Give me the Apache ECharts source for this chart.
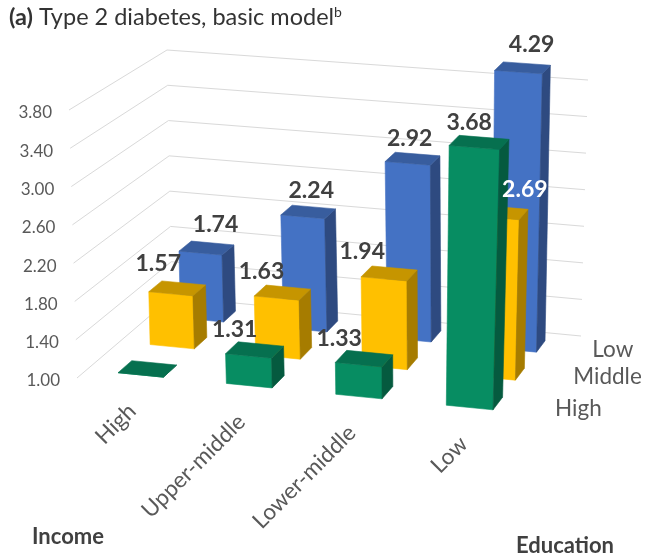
<!DOCTYPE html>
<html>
<head>
<meta charset="utf-8">
<style>html,body{margin:0;padding:0;background:#fff}#chart{width:646px;height:559px}</style>
<script src="https://cdn.jsdelivr.net/npm/echarts@6/dist/echarts.min.js"></script>
</head>
<body>
<div id="chart"></div>
<script>
// Categories and values
const incomeLevels = ['High', 'Upper-middle', 'Lower-middle', 'Low'];
const educationLevels = ['High', 'Middle', 'Low'];
const valueTicks = [1.0, 1.4, 1.8, 2.2, 2.6, 3.0, 3.4, 3.8];
const highEducation = [1.00, 1.31, 1.33, 3.68];
const middleEducation = [1.57, 1.63, 1.94, 2.69];
const lowEducation = [1.74, 2.24, 2.92, 4.29];

// Face colours per education row: front, top, side
const rowFaces = [
  ['#078D62', '#06704F', '#055A3F'],
  ['#FFC000', '#C69500', '#A67C00'],
  ['#4472C4', '#385D9E', '#2E4A80']
];

// Pixel nudges of each value label from the centre of its bar's top
const labelNudges = [
  [null, [-20, -20], [-25, -20], [-10, -20]],
  [[-19, -25], [-21, -21], [-27, -22], [25, -23]],
  [[9, -23], [3, -21], [-3, -20], [9, -23]]
];
const educationNudges = [[25, 2], [22, 0], [21, 0]];

// Projection of the 3D plot box: floor and ceiling quads, corners
// in the order front-left, front-right, back-right, back-left
const floorQuad = [[77, 378], [519, 422], [581, 336], [172, 297]];
const ceilingQuad = [[69, 110], [529, 148], [588, 80], [167, 50]];
const BAR_LO = 0.29, BAR_HI = 0.71;

function quadMap(q) {
  const [p0, p1, p2, p3] = q;
  const dx1 = p1[0] - p2[0], dx2 = p3[0] - p2[0], sx = p0[0] - p1[0] + p2[0] - p3[0];
  const dy1 = p1[1] - p2[1], dy2 = p3[1] - p2[1], sy = p0[1] - p1[1] + p2[1] - p3[1];
  const den = dx1 * dy2 - dx2 * dy1;
  const g = (sx * dy2 - dx2 * sy) / den, h = (dx1 * sy - sx * dy1) / den;
  const a = p1[0] - p0[0] + g * p1[0], b = p3[0] - p0[0] + h * p3[0], c = p0[0];
  const d = p1[1] - p0[1] + g * p1[1], e = p3[1] - p0[1] + h * p3[1], f = p0[1];
  return (u, v) => {
    const w = g * u + h * v + 1;
    return [(a * u + b * v + c) / w, (d * u + e * v + f) / w];
  };
}
const floorMap = quadMap(floorQuad), ceilingMap = quadMap(ceilingQuad);

// x: income position 0..4, z: education position 0..3, t: height share from the value axis
function project(x, z, t) {
  const a = floorMap(x / 4, z / 3), b = ceilingMap(x / 4, z / 3);
  return [a[0] + (b[0] - a[0]) * t, a[1] + (b[1] - a[1]) * t];
}
function heightShare(api, v) {
  const y0 = api.coord([0, valueTicks[0]])[1];
  const y1 = api.coord([0, valueTicks[valueTicks.length - 1]])[1];
  return (api.coord([0, v])[1] - y0) / (y1 - y0);
}
function face(points, fill) {
  return {
    type: 'polygon',
    shape: { points },
    style: { fill, stroke: fill, lineWidth: 0.6 }
  };
}

function renderBar(row) {
  return (params, api) => {
    const cat = api.value(0), t = heightShare(api, api.value(1));
    const x0 = cat + BAR_LO, x1 = cat + BAR_HI, z0 = row + BAR_LO, z1 = row + BAR_HI;
    const [front, top, side] = rowFaces[row];
    return {
      type: 'group',
      children: [
        face([project(x0, z0, 0), project(x1, z0, 0), project(x1, z0, t), project(x0, z0, t)], front),
        face([project(x1, z0, 0), project(x1, z1, 0), project(x1, z1, t), project(x1, z0, t)], side),
        face([project(x0, z0, t), project(x1, z0, t), project(x1, z1, t), project(x0, z1, t)], top)
      ]
    };
  };
}

function renderValueLabel(row) {
  return (params, api) => {
    const cat = api.value(0), v = api.value(1);
    const nudge = labelNudges[row][cat];
    if (!nudge) return null;
    const p = project(cat + 0.5, row + 0.5, heightShare(api, v));
    const white = row === 1 && cat === 3;
    return {
      type: 'text',
      x: p[0] + nudge[0],
      y: p[1] + nudge[1],
      style: {
        text: v.toFixed(2),
        font: 'bold 23px Lato',
        fill: white ? '#FFFFFF' : '#404040',
        align: 'center',
        verticalAlign: 'middle'
      }
    };
  };
}

function renderWallLine(params, api) {
  const t = heightShare(api, api.value(1));
  const a = project(0, 0, t), b = project(0, 3, t), c = project(4, 3, t);
  return {
    type: 'group',
    children: [
      {
        type: 'polyline',
        shape: { points: [a, b, c] },
        style: { fill: 'none', stroke: '#D9D9D9', lineWidth: 1 }
      },
      {
        type: 'text',
        x: a[0] - 17,
        y: a[1] + 3,
        style: {
          text: api.value(1).toFixed(2),
          font: '17px Lato',
          fill: '#595959',
          align: 'right',
          verticalAlign: 'middle'
        }
      }
    ]
  };
}

function renderIncomeLabel(params, api) {
  const cat = api.value(0);
  const p = project(cat + 0.5, 0, 0);
  return {
    type: 'text',
    x: p[0] + 1,
    y: p[1] + 24,
    rotation: Math.PI / 4,
    style: {
      text: incomeLevels[cat],
      font: '22.5px Lato',
      fill: '#595959',
      align: 'right',
      verticalAlign: 'middle'
    }
  };
}

function renderEducationLabel(params, api) {
  const i = params.dataIndex;
  const p = project(4, i + 0.5, 0);
  return {
    type: 'text',
    x: p[0] + educationNudges[i][0],
    y: p[1] + educationNudges[i][1],
    style: {
      text: educationLevels[i],
      font: '22.5px Lato',
      fill: '#595959',
      align: 'left',
      verticalAlign: 'middle'
    }
  };
}

const rows = [highEducation, middleEducation, lowEducation];
const series = [
  {
    name: 'gridlines',
    type: 'custom',
    coordinateSystem: 'cartesian2d',
    renderItem: renderWallLine,
    data: valueTicks.map(v => [0, v]),
    silent: true,
    z: 1
  },
  {
    name: 'income labels',
    type: 'custom',
    renderItem: renderIncomeLabel,
    data: incomeLevels.map((_, i) => [i, valueTicks[0]]),
    silent: true,
    z: 1
  },
  {
    name: 'education labels',
    type: 'custom',
    renderItem: renderEducationLabel,
    data: educationLevels.map((_, i) => [0, valueTicks[0]]),
    silent: true,
    z: 1
  }
];
// Back row first so nearer bars paint over it
[2, 1, 0].forEach(row => {
  series.push({
    name: educationLevels[row] + ' education',
    type: 'custom',
    renderItem: renderBar(row),
    data: rows[row].map((v, i) => [i, v]),
    silent: true,
    z: 5 - row
  });
  series.push({
    name: educationLevels[row] + ' education values',
    type: 'custom',
    renderItem: renderValueLabel(row),
    data: rows[row].map((v, i) => [i, v]),
    silent: true,
    z: 10
  });
});

const chart = echarts.init(document.getElementById('chart'), null, { renderer: 'canvas' });
chart.setOption({
  animation: false,
  backgroundColor: '#FFFFFF',
  title: {
    text: '{h|(a)} Type 2 diabetes, basic model{s|b}',
    left: 4,
    top: 0,
    textStyle: {
      fontFamily: 'Lato',
      fontSize: 23.5,
      fontWeight: 'normal',
      color: '#333333',
      rich: {
        h: { fontFamily: 'Lato', fontSize: 23.5, fontWeight: 'bold', color: '#333333' },
        s: { fontFamily: 'Lato', fontSize: 14, color: '#333333', verticalAlign: 'top', padding: [0, 0, 10, 0] }
      }
    }
  },
  grid: { left: 77, right: 148, top: 80, bottom: 181 },
  xAxis: { type: 'category', data: incomeLevels, show: false },
  // The top of the tallest bar runs past the last gridline on a compressed stretch of the axis
  yAxis: {
    type: 'value',
    min: 1,
    max: 4.4,
    interval: 0.4,
    show: false,
    breaks: [{ start: 3.8, end: 4.09, gap: 0 }]
  },
  graphic: [
    { type: 'text', left: 32, top: 526, style: { text: 'Income', font: 'bold 22px Lato', fill: '#404040' } },
    { type: 'text', left: 516, top: 535, style: { text: 'Education', font: 'bold 22px Lato', fill: '#404040' } }
  ],
  series
});
</script>
</body>
</html>
